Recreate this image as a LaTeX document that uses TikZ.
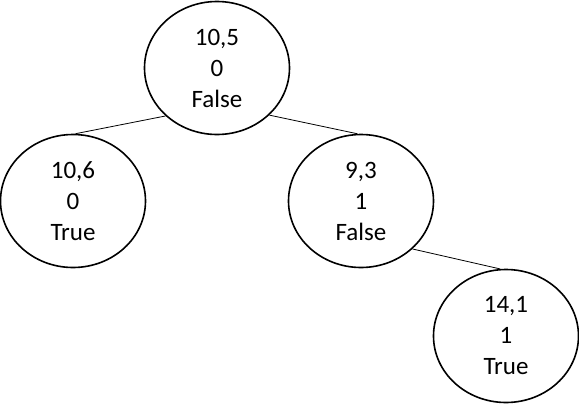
\documentclass[tikz,border=0pt]{standalone}
\usepackage{fontspec}
\setmainfont{Carlito}
\usetikzlibrary{shapes.geometric}

\begin{document}
\begin{tikzpicture}[x=1pt,y=-1pt,
    treenode/.style={ellipse,draw,line width=1.6pt,minimum width=145pt,minimum height=133pt,
      inner sep=0pt,align=center,font=\fontsize{25}{31}\selectfont},
    edge/.style={line width=0.8pt}]

      \useasboundingbox (0,0) rectangle (579,405);

      % the nodes of the tree
      \node[treenode] (root)  at (217,68)  {10,5\\0\\False};
      \node[treenode] (left)  at (73,201)  {10,6\\0\\True};
      \node[treenode] (right) at (361,201) {9,3\\1\\False};
      \node[treenode] (leaf)  at (506,336) {14,1\\1\\True};

      % draw the branches
      \draw [edge] (root.223) -- (left.88);
      \draw [edge] (root.318) -- (right.93);
      \draw [edge] (right.317) -- (leaf.95);

\end{tikzpicture}
\end{document}
